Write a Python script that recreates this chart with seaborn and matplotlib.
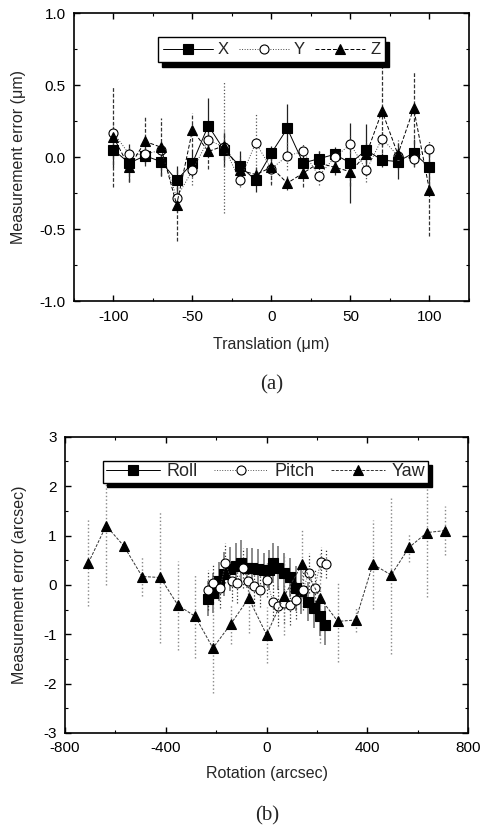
import numpy as np
import pandas as pd
import matplotlib
matplotlib.use("Agg")
import matplotlib.pyplot as plt
import seaborn as sns
from matplotlib.ticker import MultipleLocator

# ---------------- data (a) ----------------
trans = [-100, -90, -80, -70, -60, -50, -40, -30, -20, -10, 0, 10, 20, 30, 40, 50, 60, 70, 80, 90, 100]
x_err_val = [0.05, -0.04, 0.01, -0.03, -0.16, -0.04, 0.22, 0.05, -0.06, -0.16, 0.03, 0.20, -0.04, -0.01, 0.02, -0.04, 0.05, -0.02, -0.03, 0.03, -0.07]
y_err_val = [0.17, 0.02, 0.02, 0.05, -0.28, -0.09, 0.12, 0.07, -0.16, 0.10, -0.08, 0.01, 0.04, -0.13, 0.00, 0.09, -0.09, 0.13, 0.01, -0.01, 0.06]
z_err_val = [0.14, -0.07, 0.11, 0.07, -0.33, 0.19, 0.04, 0.08, -0.09, -0.12, -0.07, -0.18, -0.11, -0.04, -0.07, -0.10, 0.02, 0.32, 0.02, 0.34, -0.23]
x_sd = [0.12, 0.13, 0.05, 0.10, 0.10, 0.10, 0.19, 0.12, 0.10, 0.08, 0.05, 0.17, 0.08, 0.05, 0.05, 0.28, 0.18, 0.05, 0.12, 0.10, 0.12]
y_sd = [0.08, 0.05, 0.05, 0.05, 0.10, 0.10, 0.10, 0.46, 0.05, 0.20, 0.10, 0.10, 0.05, 0.06, 0.05, 0.06, 0.08, 0.05, 0.05, 0.05, 0.05]
z_sd = [0.35, 0.10, 0.17, 0.20, 0.25, 0.12, 0.12, 0.10, 0.10, 0.05, 0.12, 0.05, 0.10, 0.08, 0.05, 0.10, 0.10, 0.37, 0.10, 0.25, 0.32]

# ---------------- data (b) ----------------
roll_x = [-233, -213, -190, -168, -145, -122, -100, -78, -56, -34, -12, 10, 25, 46, 69, 92, 115, 138, 163, 187, 211, 233]
roll_y = [-0.28, -0.16, 0.07, 0.22, 0.32, 0.39, 0.45, 0.34, 0.34, 0.32, 0.30, 0.30, 0.44, 0.34, 0.24, 0.15, -0.07, -0.13, -0.34, -0.47, -0.64, -0.82]
roll_sd = [0.35, 0.40, 0.40, 0.45, 0.45, 0.45, 0.45, 0.40, 0.40, 0.40, 0.35, 0.40, 0.40, 0.45, 0.40, 0.40, 0.45, 0.45, 0.40, 0.40, 0.40, 0.40]
pitch_x = [-233, -213, -184, -163, -138, -118, -94, -72, -48, -25, 1, 25, 46, 69, 95, 118, 144, 168, 191, 215, 237]
pitch_y = [-0.10, 0.03, -0.07, 0.44, 0.07, 0.03, 0.34, 0.07, -0.03, -0.10, 0.10, -0.34, -0.43, -0.37, -0.41, -0.30, -0.10, 0.24, -0.07, 0.47, 0.43]
pitch_sd = [0.40, 0.40, 0.40, 0.40, 0.40, 0.40, 0.40, 0.40, 0.40, 0.35, 0.35, 0.35, 0.40, 0.40, 0.40, 0.40, 0.40, 0.40, 0.40, 0.30, 0.30]
yaw_x = [-707, -637, -567, -494, -422, -352, -283, -213, -143, -71, 0, 71, 142, 213, 283, 354, 422, 495, 566, 637, 708]
yaw_y = [0.45, 1.20, 0.79, 0.17, 0.15, -0.41, -0.64, -1.28, -0.80, -0.27, -1.01, -0.22, 0.43, -0.27, -0.74, -0.71, 0.42, 0.20, 0.76, 1.06, 1.10]
yaw_sd = [0.88, 1.20, 0.10, 0.40, 1.33, 0.90, 0.84, 0.90, 0.40, 0.70, 0.57, 0.80, 0.70, 0.90, 0.82, 0.25, 0.90, 1.60, 0.30, 1.30, 0.50]

sns.set_theme(style="ticks")
plt.rcParams['font.family'] = ['Liberation Sans', 'DejaVu Sans']
plt.rcParams['mathtext.default'] = 'regular'
plt.rcParams['axes.unicode_minus'] = False

fig = plt.figure(figsize=(4.82, 8.32), dpi=100)
ax1 = fig.add_axes([0.1535, 0.638, 0.8195, 0.346])
ax2 = fig.add_axes([0.135, 0.119, 0.836, 0.356])

def style_axes(ax):
    for s in ax.spines.values():
        s.set_linewidth(1.2)
        s.set_color('black')
    ax.tick_params(which='both', direction='in', top=True, right=True, colors='black',
                   labelsize=11, labelcolor='black', pad=6)
    ax.tick_params(which='major', length=4, width=1)
    ax.tick_params(which='minor', length=2.5, width=0.8)

def draw_series(ax, xs, ys, sd, marker, ls, mfc, ebcolor, ebls, eblw, label, lw=0.7, ms=6.5, lcolor='black'):
    ax.errorbar(xs, ys, yerr=sd, fmt='none', ecolor=ebcolor, elinewidth=eblw,
                linestyle='none', capsize=0, zorder=1)
    for coll in ax.collections[-1:]:
        coll.set_linestyle(ebls)
    df = pd.DataFrame({'x': xs, 'y': ys})
    sns.lineplot(data=df, x='x', y='y', ax=ax, color=lcolor, linestyle=ls, linewidth=lw,
                 marker=marker, markersize=ms, markerfacecolor=mfc, markeredgecolor='black',
                 markeredgewidth=0.8, label=label, zorder=3, sort=False, estimator=None)

# ---- panel (a)
draw_series(ax1, trans, x_err_val, x_sd, 's', '-', 'black', '#222222', '-', 0.9, 'X')
draw_series(ax1, trans, y_err_val, y_sd, 'o', ':', 'white', '#555555', ':', 0.9, 'Y', lcolor='#444444')
draw_series(ax1, trans, z_err_val, z_sd, '^', (0, (4, 2)), 'black', '#333333', (0, (3, 1.5)), 0.9, 'Z')
ax1.set_xlim(-125, 125)
ax1.set_ylim(-1.0, 1.0)
ax1.set_xticks([-100, -50, 0, 50, 100])
ax1.set_xticklabels(['-100', '-50', '0', '50', '100'])
ax1.xaxis.set_minor_locator(MultipleLocator(25))
ax1.set_yticks([-1.0, -0.5, 0.0, 0.5, 1.0])
ax1.set_yticklabels(['-1.0', '-0.5', '0.0', '0.5', '1.0'])
ax1.yaxis.set_minor_locator(MultipleLocator(0.25))
ax1.set_xlabel('Translation (\u03bcm)', fontsize=11.5, labelpad=10)
ax1.set_ylabel('Measurement error (\u03bcm)', fontsize=11.5, labelpad=10)
style_axes(ax1)
leg1 = ax1.legend(loc='upper center', bbox_to_anchor=(0.5, 0.945), ncol=3, fontsize=12,
                  frameon=True, fancybox=False, edgecolor='black', handlelength=3.0,
                  columnspacing=0.6, handletextpad=0.3, borderpad=0.3,
                  shadow={'color': 'black', 'alpha': 1.0, 'ox': 3, 'oy': -3})
leg1.get_frame().set_linewidth(1.0)

# ---- panel (b)
draw_series(ax2, roll_x, roll_y, roll_sd, 's', '-', 'black', '#777777', '-', 1.2, 'Roll', ms=7)
draw_series(ax2, pitch_x, pitch_y, pitch_sd, 'o', ':', 'white', '#333333', ':', 0.9, 'Pitch', lcolor='#555555')
draw_series(ax2, yaw_x, yaw_y, yaw_sd, '^', (0, (3, 1.5)), 'black', '#888888', ':', 1.0, 'Yaw', lcolor='#333333')
ax2.set_xlim(-800, 800)
ax2.set_ylim(-3, 3)
ax2.set_xticks([-800, -400, 0, 400, 800])
ax2.xaxis.set_minor_locator(MultipleLocator(200))
ax2.set_yticks([-3, -2, -1, 0, 1, 2, 3])
ax2.yaxis.set_minor_locator(MultipleLocator(0.5))
ax2.set_xlabel('Rotation (arcsec)', fontsize=11.5, labelpad=8)
ax2.set_ylabel('Measurement error (arcsec)', fontsize=11.5, labelpad=12)
style_axes(ax2)
leg2 = ax2.legend(loc='upper center', bbox_to_anchor=(0.497, 0.95), ncol=3, fontsize=13,
                  frameon=True, fancybox=False, edgecolor='black', handlelength=3.0,
                  columnspacing=0.9, handletextpad=0.35, borderpad=0.15,
                  shadow={'color': 'black', 'alpha': 1.0, 'ox': 3, 'oy': -3})
leg2.get_frame().set_linewidth(1.0)

fig.text(0.564, 0.537, '(a)', ha='center', va='center', fontsize=15, family='Liberation Serif')
fig.text(0.554, 0.020, '(b)', ha='center', va='center', fontsize=15, family='Liberation Serif')

fig.savefig('out.png', dpi=100, facecolor='white')
